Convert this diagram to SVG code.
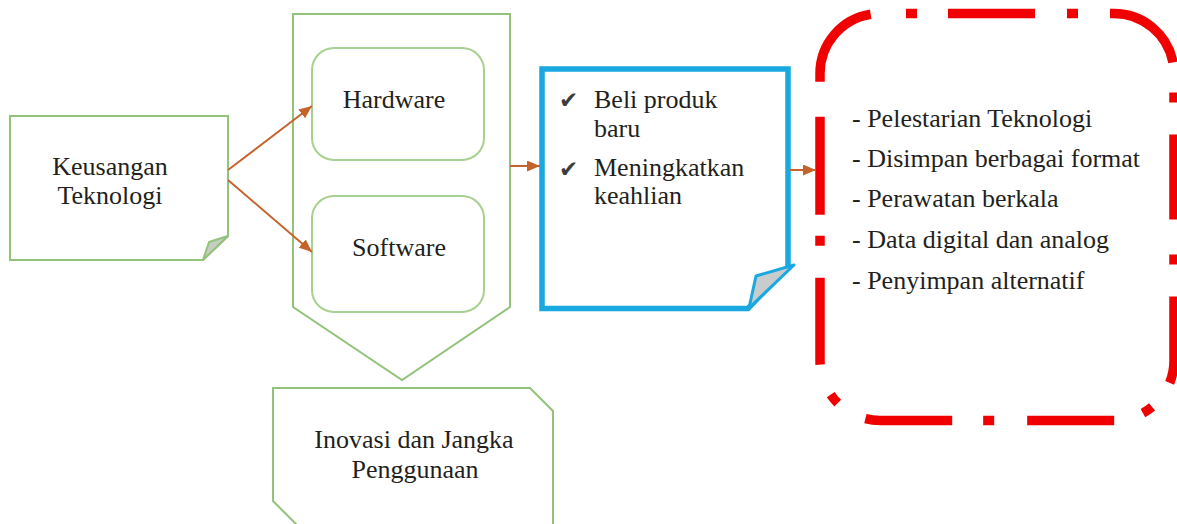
<svg xmlns="http://www.w3.org/2000/svg" width="1177" height="524" viewBox="0 0 1177 524">
  <style>
    .lbl { font-family: "Liberation Serif", "Times New Roman", serif; font-size: 26px; fill: #231f20; }
    .mid { text-anchor: middle; }
    .chk { font-family: "DejaVu Sans", sans-serif; font-size: 23px; fill: #3c3c3c; }
    .green { fill: #ffffff; stroke: #93c27b; stroke-width: 2; }
    .green-soft { fill: #ffffff; stroke: #a8d191; stroke-width: 2; }
    .fold { fill: #c6cdc2; stroke: #93c27b; stroke-width: 2; stroke-linejoin: round; }
    .blue { fill: #ffffff; stroke: #19a8e0; stroke-width: 5.5; stroke-linejoin: miter; }
    .blue-fold { fill: #c9cccd; stroke: #19a8e0; stroke-width: 3; stroke-linejoin: round; }
    .red { fill: none; stroke: #f00000; stroke-width: 9.5; stroke-linecap: butt; }
    .conn { stroke: #c4632b; stroke-width: 2; fill: none; marker-end: url(#arrow); }
  </style>
  <defs>
    <marker id="arrow" markerUnits="userSpaceOnUse" markerWidth="13" markerHeight="11" refX="13" refY="5.5" orient="auto">
      <path d="M0,0 L13,5.5 L0,11 Z" fill="#c4632b"/>
    </marker>
  </defs>

  <rect width="1177" height="524" fill="#ffffff"/>

  <!-- Source note with folded corner -->
  <g id="keusangan">
    <path class="green" d="M10,116 H228 V236 L203,260 H10 Z"/>
    <path class="fold" d="M228,236 L203,260 L209,242 Z"/>
    <text class="lbl mid" x="110" y="175">Keusangan</text>
    <text class="lbl mid" x="110" y="204">Teknologi</text>
  </g>

  <!-- Downward pentagon container -->
  <g id="container">
    <path class="green" d="M293,14 H510 V307 L402,380 L293,307 Z"/>
  </g>

  <g id="hardware">
    <rect class="green-soft" x="312" y="48" width="172" height="112" rx="22" ry="22"/>
    <text class="lbl mid" x="394" y="108">Hardware</text>
  </g>

  <g id="software">
    <rect class="green-soft" x="312" y="196" width="172" height="116" rx="22" ry="22"/>
    <text class="lbl mid" x="399" y="256">Software</text>
  </g>

  <!-- Snipped-corner box below -->
  <g id="inovasi">
    <path class="green" d="M273,388 H530 L553,411 V530 H302 L273,501 Z"/>
    <text class="lbl mid" x="414" y="448">Inovasi dan Jangka</text>
    <text class="lbl mid" x="415" y="478">Penggunaan</text>
  </g>

  <!-- Action note -->
  <g id="tindakan">
    <path class="blue" d="M542,69 H788 V267 L748,308.5 H542 Z"/>
    <path class="blue-fold" d="M794,265 L749,308 L756,276 Z"/>
    <text class="chk" x="559" y="108">✔</text>
    <text class="lbl" x="594" y="108">Beli produk</text>
    <text class="lbl" x="594" y="137">baru</text>
    <text class="chk" x="559" y="177">✔</text>
    <text class="lbl" x="594" y="176">Meningkatkan</text>
    <text class="lbl" x="594" y="204">keahlian</text>
  </g>

  <!-- Dash-dot rounded frame with list -->
  <g id="pelestarian">
    <path class="red" stroke-dasharray="0 26 11 31 87 32 11 32 87 30 10 32 85 35 10 32 87 30 11 30 87 33 11 31 87 32 11 32 87 32 10 21 98 35 93 40"
          d="M880,13.5 H1114 A60,60 0 0 1 1174,73.5 V360.5 A60,60 0 0 1 1114,420.5 H880 A60,60 0 0 1 820,360.5 V73.5 A60,60 0 0 1 880,13.5 Z"/>
    <text class="lbl" x="852" y="127">- Pelestarian Teknologi</text>
    <text class="lbl" x="852" y="167">- Disimpan berbagai format</text>
    <text class="lbl" x="852" y="207">- Perawatan berkala</text>
    <text class="lbl" x="852" y="248">- Data digital dan analog</text>
    <text class="lbl" x="852" y="289">- Penyimpan alternatif</text>
  </g>

  <g id="connectors">
    <line class="conn" x1="228" y1="170" x2="312" y2="106"/>
    <line class="conn" x1="228" y1="180" x2="312" y2="252"/>
    <line class="conn" x1="510" y1="166" x2="540" y2="166"/>
    <line class="conn" x1="790" y1="170" x2="816" y2="170"/>
  </g>
</svg>
